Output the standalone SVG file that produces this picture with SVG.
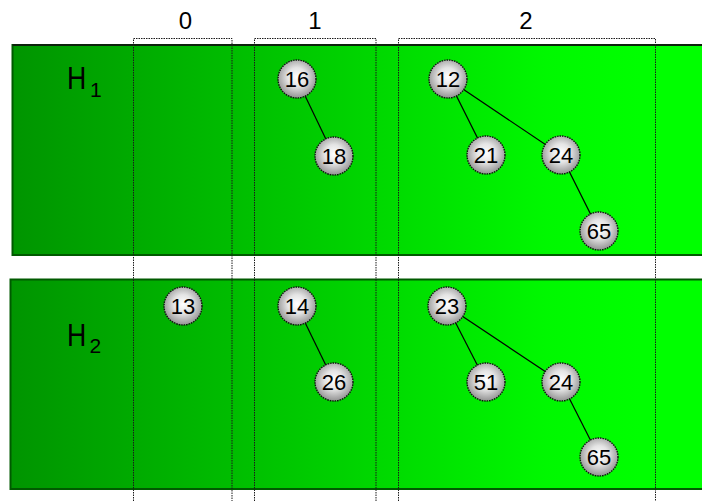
<svg xmlns="http://www.w3.org/2000/svg" width="702" height="501" viewBox="0 0 702 501">
<style>
.panel{stroke:#005a00;stroke-width:2}
.box{fill:none;stroke:#1a1a1a;stroke-width:1;stroke-dasharray:1.5,1}
.edge{stroke:#000;stroke-width:1.2}
.node circle{fill:url(#ng);stroke:#111;stroke-width:1.4;stroke-dasharray:1.5,1}
.node text{font-family:"Liberation Sans",Arial,sans-serif;font-size:22px;text-anchor:middle;fill:#000}
.lbl{font-family:"Liberation Sans",Arial,sans-serif;font-size:24px;text-anchor:middle;fill:#000}
.h{font-family:"Liberation Sans",Arial,sans-serif;fill:#000}
</style>
<defs>
<linearGradient id="pg" gradientUnits="userSpaceOnUse" x1="10" y1="0" x2="640" y2="0">
<stop offset="0" stop-color="#009400"/>
<stop offset="0.45" stop-color="#00c800"/>
<stop offset="0.85" stop-color="#00f800"/>
<stop offset="1" stop-color="#00ff00"/>
</linearGradient>
<radialGradient id="ng" cx="0.5" cy="0.45" r="0.55">
<stop offset="0" stop-color="#ffffff"/>
<stop offset="0.45" stop-color="#e4e4e4"/>
<stop offset="1" stop-color="#929292"/>
</radialGradient>
</defs>
<rect width="702" height="501" fill="#fff"/>
<g id="panel1">
<rect class="panel" x="12.5" y="45" width="700" height="210" fill="url(#pg)"/>
<line x1="12.5" y1="45" x2="702" y2="45" stroke="#111" stroke-width="1.5"/>
<text class="h" transform="translate(67,88.5) scale(0.86,1)" font-size="31">H</text>
<text class="h" x="90" y="96.7" font-size="21">1</text>
</g>
<g id="panel2">
<rect class="panel" x="10.5" y="279.5" width="700" height="209.5" fill="url(#pg)"/>
<text class="h" transform="translate(67,345.7) scale(0.86,1)" font-size="31">H</text>
<text class="h" x="89.5" y="353.3" font-size="21">2</text>
</g>
<g id="boxes">
<path class="box" d="M133.5,501 V38.5 H232 V501"/>
<path class="box" d="M254.5,501 V38.5 H376 V501"/>
<path class="box" d="M398.5,501 V38.5 H655.5 V501"/>
<text class="lbl" x="185.5" y="29">0</text>
<text class="lbl" x="315" y="29">1</text>
<text class="lbl" x="526" y="29">2</text>
</g>
<g id="connectors">
<line class="edge" x1="297" y1="79" x2="334" y2="156"/>
<line class="edge" x1="448" y1="79" x2="486" y2="155"/>
<line class="edge" x1="448" y1="79" x2="561" y2="155"/>
<line class="edge" x1="561" y1="155" x2="599" y2="231"/>
<line class="edge" x1="297" y1="306" x2="334" y2="382"/>
<line class="edge" x1="447" y1="306" x2="486" y2="382"/>
<line class="edge" x1="447" y1="306" x2="561" y2="382"/>
<line class="edge" x1="561" y1="382" x2="599" y2="457"/>
</g>
<g id="n16" class="node"><circle cx="297" cy="79" r="19"/><text x="297" y="87">16</text></g>
<g id="n18" class="node"><circle cx="334" cy="156" r="19"/><text x="334" y="164">18</text></g>
<g id="n12" class="node"><circle cx="448" cy="79" r="19"/><text x="448" y="87">12</text></g>
<g id="n21" class="node"><circle cx="486" cy="155" r="19"/><text x="486" y="163">21</text></g>
<g id="n24a" class="node"><circle cx="561" cy="155" r="19"/><text x="561" y="163">24</text></g>
<g id="n65a" class="node"><circle cx="599" cy="231" r="19"/><text x="599" y="239">65</text></g>
<g id="n13" class="node"><circle cx="183" cy="306" r="19"/><text x="183" y="314">13</text></g>
<g id="n14" class="node"><circle cx="297" cy="306" r="19"/><text x="297" y="314">14</text></g>
<g id="n26" class="node"><circle cx="334" cy="382" r="19"/><text x="334" y="390">26</text></g>
<g id="n23" class="node"><circle cx="447" cy="306" r="19"/><text x="447" y="314">23</text></g>
<g id="n51" class="node"><circle cx="486" cy="382" r="19"/><text x="486" y="390">51</text></g>
<g id="n24b" class="node"><circle cx="561" cy="382" r="19"/><text x="561" y="390">24</text></g>
<g id="n65b" class="node"><circle cx="599" cy="457" r="19"/><text x="599" y="465">65</text></g>
</svg>
